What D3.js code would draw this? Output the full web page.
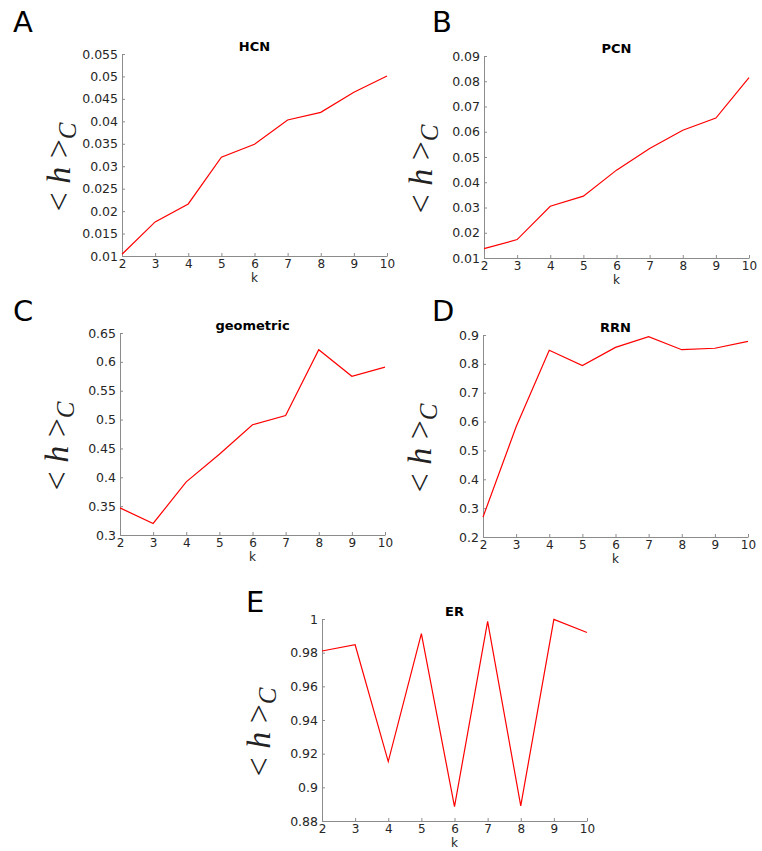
<!DOCTYPE html>
<html>
<head>
<meta charset="utf-8">
<script src="https://cdnjs.cloudflare.com/ajax/libs/d3/7.8.5/d3.min.js"></script>
<style>
  body { margin: 0; background: #fff; }
  svg { display: block; font-family: "DejaVu Sans", sans-serif; }
</style>
</head>
<body>
<svg id="chart" width="762" height="851"></svg>
<script>
"use strict";

// k values shared by all panels
var kValues = [2, 3, 4, 5, 6, 7, 8, 9, 10];

// <h>_C
var hcnValues = [0.0104, 0.0176, 0.0216, 0.0320, 0.0349, 0.0403, 0.0420, 0.0465, 0.0501];
var pcnValues = [0.0137, 0.0173, 0.0305, 0.0345, 0.0448, 0.0534, 0.0606, 0.0654, 0.0814];
var geometricValues = [0.347, 0.320, 0.392, 0.440, 0.491, 0.507, 0.621, 0.575, 0.591];
var rrnValues = [0.269, 0.582, 0.847, 0.794, 0.857, 0.894, 0.849, 0.854, 0.878];
var erValues = [0.981, 0.9847, 0.9153, 0.9913, 0.8885, 0.9986, 0.889, 0.9998, 0.992];

// y tick labels per panel
var hcnTicks = [0.01, 0.015, 0.02, 0.025, 0.03, 0.035, 0.04, 0.045, 0.05, 0.055];
var pcnTicks = [0.01, 0.02, 0.03, 0.04, 0.05, 0.06, 0.07, 0.08, 0.09];
var geometricTicks = [0.3, 0.35, 0.4, 0.45, 0.5, 0.55, 0.6, 0.65];
var rrnTicks = [0.2, 0.3, 0.4, 0.5, 0.6, 0.7, 0.8, 0.9];
var erTicks = [0.88, 0.9, 0.92, 0.94, 0.96, 0.98, 1];

var panels = [
  {letter: "A", title: "HCN", values: hcnValues, ticks: hcnTicks, left: 122, top: 54, lx: 13, ly: 32},
  {letter: "B", title: "PCN", values: pcnValues, ticks: pcnTicks, left: 484, top: 56, lx: 432, ly: 32},
  {letter: "C", title: "geometric", values: geometricValues, ticks: geometricTicks, left: 120, top: 333, lx: 13, ly: 321},
  {letter: "D", title: "RRN", values: rrnValues, ticks: rrnTicks, left: 483, top: 335, lx: 432, ly: 321},
  {letter: "E", title: "ER", values: erValues, ticks: erTicks, left: 322, top: 619, lx: 246, ly: 612}
];

var width = 265, height = 202;
var svg = d3.select("#chart");

panels.forEach(function(p) {
  var g = svg.append("g").attr("transform", "translate(" + p.left + "," + p.top + ")");

  var x = d3.scaleLinear().domain([2, 10]).range([0, width]);
  var y = d3.scaleLinear().domain(d3.extent(p.ticks)).range([height, 0]);

  var xAxis = g.append("g")
    .attr("transform", "translate(0," + height + ")")
    .call(d3.axisBottom(x).tickValues(kValues).tickSizeInner(-3).tickSizeOuter(0).tickPadding(3).tickFormat(d3.format("d")));
  var yAxis = g.append("g")
    .call(d3.axisLeft(y).tickValues(p.ticks).tickSizeInner(-3).tickSizeOuter(0).tickPadding(4).tickFormat(function(d) { return String(+d.toFixed(3)); }));

  [xAxis, yAxis].forEach(function(a) {
    a.attr("font-size", 12.5).attr("font-family", "DejaVu Sans, sans-serif");
    a.select(".domain").attr("stroke", "#8c8c8c");
    a.selectAll(".tick line").attr("stroke", "#8c8c8c");
    a.selectAll(".tick text").attr("fill", "#262626");
  });
  xAxis.attr("font-size", 12);

  // x label
  g.append("text")
    .attr("x", width / 2)
    .attr("y", height + 26)
    .attr("text-anchor", "middle")
    .attr("font-size", 12)
    .attr("fill", "#262626")
    .text("k");

  // title
  g.append("text")
    .attr("x", width / 2)
    .attr("y", -3)
    .attr("text-anchor", "middle")
    .attr("font-size", 13)
    .attr("font-weight", "bold")
    .text(p.title);

  // y label <h>_C
  var yl = g.append("text")
    .attr("transform", "translate(" + (-52) + "," + (height / 2 + 12) + ") rotate(-90)")
    .attr("text-anchor", "middle")
    .attr("font-family", "Liberation Serif, serif")
    .attr("font-size", 34)
    .attr("fill", "#222");
  yl.append("tspan").text("< ");
  yl.append("tspan").attr("font-style", "italic").text("h");
  yl.append("tspan").text(" >");
  yl.append("tspan").attr("font-style", "italic").attr("font-size", 25).attr("dy", 6).text("C");

  // series line
  var line = d3.line()
    .x(function(d, i) { return x(kValues[i]); })
    .y(function(d) { return y(d); });

  g.append("path")
    .datum(p.values)
    .attr("d", line)
    .attr("fill", "none")
    .attr("stroke", "#ff0000")
    .attr("stroke-width", 1.2);

  // panel letter
  svg.append("text")
    .attr("x", p.lx)
    .attr("y", p.ly)
    .attr("font-size", 29)
    .attr("fill", "#000")
    .text(p.letter);
});
</script>
</body>
</html>
